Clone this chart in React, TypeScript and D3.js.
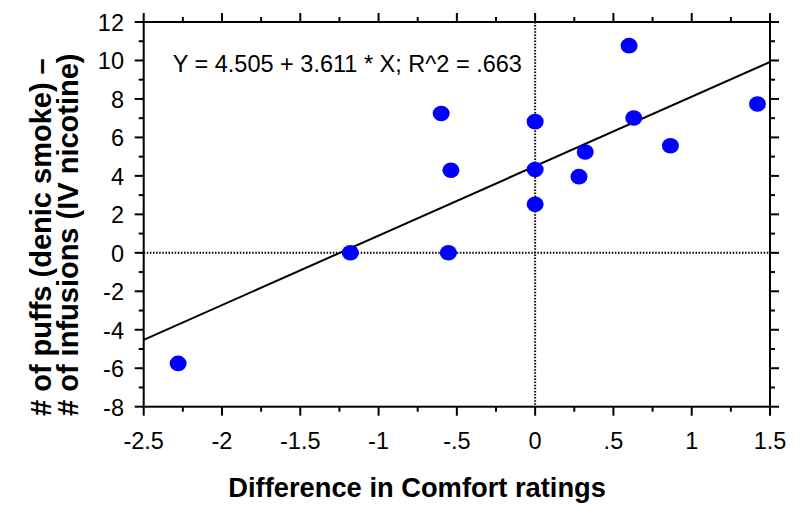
import React from "react";
import * as d3 from "d3";

const xValues = [-2.28, -1.18, -0.554, -0.6, -0.538, 0, 0, 0, 0.28, 0.32, 0.6, 0.63, 0.864, 1.42];
const yValues = [-5.75, 0, 0, 7.24, 4.29, 6.82, 4.33, 2.52, 3.96, 5.24, 10.77, 7.01, 5.57, 7.74];
const xTickValues = [-2.5, -2, -1.5, -1, -0.5, 0, 0.5, 1, 1.5];
const xTickLabels = ["-2.5", "-2", "-1.5", "-1", "-.5", "0", ".5", "1", "1.5"];
const xMinorTicks = [-2.25, -1.75, -1.25, -0.75, -0.25, 0.25, 0.75, 1.25];
const yTickValues = [-8, -6, -4, -2, 0, 2, 4, 6, 8, 10, 12];
const yTickLabels = ["-8", "-6", "-4", "-2", "0", "2", "4", "6", "8", "10", "12"];
const yMinorTicks = [-7, -5, -3, -1, 1, 3, 5, 7, 9, 11];
const intercept = 4.505;
const slope = 3.611;
const equationText = "Y = 4.505 + 3.611 * X; R^2 = .663";
const xTitle = "Difference in Comfort ratings";
const yTitleLines = ["# of puffs (denic smoke) \u2013", "# of infusions (IV nicotine)"];

const W = 800;
const H = 516;
const left = 143.7;
const right = 770;
const top = 22;
const bottom = 406.7;

export default function App() {
  const x = d3.scaleLinear().domain([-2.5, 1.5]).range([left, right]);
  const y = d3.scaleLinear().domain([-8, 12]).range([bottom, top]);
  const font = "Arial, 'Liberation Sans', Helvetica, sans-serif";
  const lineGen = d3
    .line<number>()
    .x((d) => x(d))
    .y((d) => y(intercept + slope * d));
  const major = 9;
  const minor = 5;
  const sw = 2;

  return (
    <svg
      width={W}
      height={H}
      style={{ position: "absolute", left: 0, top: 0, background: "#fff" }}
      fontFamily={font}
    >
      <rect x={0} y={0} width={W} height={H} fill="#fff" />
      <line x1={left} x2={right} y1={y(0)} y2={y(0)} stroke="#000" strokeWidth={2} strokeDasharray="1.5,1.6" />
      <line x1={x(0)} x2={x(0)} y1={top} y2={bottom} stroke="#000" strokeWidth={2} strokeDasharray="1.5,1.6" />

      <rect x={left} y={top} width={right - left} height={bottom - top} fill="none" stroke="#000" strokeWidth={sw} />

      {xTickValues.map((v) => (
        <g key={"xt" + v}>
          <line x1={x(v)} x2={x(v)} y1={bottom} y2={bottom + major} stroke="#000" strokeWidth={sw} />
          <line x1={x(v)} x2={x(v)} y1={top} y2={top - major} stroke="#000" strokeWidth={sw} />
        </g>
      ))}
      {xMinorTicks.map((v) => (
        <g key={"xm" + v}>
          <line x1={x(v)} x2={x(v)} y1={bottom} y2={bottom + minor} stroke="#000" strokeWidth={sw} />
          <line x1={x(v)} x2={x(v)} y1={top} y2={top - minor} stroke="#000" strokeWidth={sw} />
        </g>
      ))}
      {yTickValues.map((v) => (
        <g key={"yt" + v}>
          <line x1={left} x2={left - major} y1={y(v)} y2={y(v)} stroke="#000" strokeWidth={sw} />
          <line x1={right} x2={right + major} y1={y(v)} y2={y(v)} stroke="#000" strokeWidth={sw} />
        </g>
      ))}
      {yMinorTicks.map((v) => (
        <g key={"ym" + v}>
          <line x1={left} x2={left - minor} y1={y(v)} y2={y(v)} stroke="#000" strokeWidth={sw} />
          <line x1={right} x2={right + minor} y1={y(v)} y2={y(v)} stroke="#000" strokeWidth={sw} />
        </g>
      ))}

      {xTickValues.map((v, i) => (
        <text key={"xl" + v} x={x(v)} y={448.5} textAnchor="middle" fontSize={23.5} fill="#000">
          {xTickLabels[i]}
        </text>
      ))}
      {yTickValues.map((v, i) => (
        <text key={"yl" + v} x={124} y={y(v) + 9} textAnchor="end" fontSize={23.5} fill="#000">
          {yTickLabels[i]}
        </text>
      ))}

      <path d={lineGen([-2.5, 1.5]) || ""} fill="none" stroke="#000" strokeWidth={2} />

      {xValues.map((v, i) => (
        <ellipse key={"p" + i} cx={x(v)} cy={y(yValues[i])} rx={8.5} ry={7.8} fill="#0000ff" />
      ))}

      <text x={172.7} y={72} fontSize={23.5} fill="#000">
        {equationText}
      </text>

      <text x={228.3} y={496.7} fontSize={27.3} fontWeight="bold" fill="#000">
        {xTitle}
      </text>
      <g transform="translate(51,416) rotate(-90)">
        <text x={0} y={0} fontSize={29} fontWeight="bold" fill="#000">
          {yTitleLines[0]}
        </text>
      </g>
      <g transform="translate(78,416) rotate(-90)">
        <text x={0} y={0} fontSize={29} fontWeight="bold" fill="#000">
          {yTitleLines[1]}
        </text>
      </g>
    </svg>
  );
}
